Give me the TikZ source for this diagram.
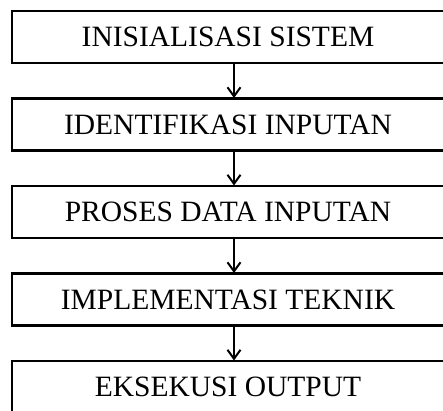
\documentclass[tikz,border=0pt]{standalone}
\usepackage{fontspec}
\setmainfont{Liberation Serif}
\usetikzlibrary{positioning,arrows.meta}
\tikzset{
    stepbox/.style={draw, line width=2.6pt, outer sep=0pt, minimum width=432pt, minimum height=52pt, inner sep=0pt, font=\fontsize{29.5}{32}\selectfont},
    flow/.style={-{Straight Barb[length=9pt,width=13pt,line width=2pt]}, line width=2pt, shorten >=0.5pt}
}
\begin{document}
\begin{tikzpicture}[x=1pt, y=1pt, node distance=35.5pt]
        \useasboundingbox (0,0) rectangle (443,-410);
        \clip (0,0) rectangle (443,-410);
        \node[stepbox] (inisial) at (228,-37) {INISIALISASI SISTEM};
        \node[stepbox, below=of inisial] (identif) {IDENTIFIKASI INPUTAN};
        \node[stepbox, below=of identif] (proses) {PROSES DATA INPUTAN};
        \node[stepbox, below=of proses] (implem) {IMPLEMENTASI TEKNIK};
        \node[stepbox, below=of implem] (eksekusi) {EKSEKUSI OUTPUT};
        \draw[flow] ([xshift=6pt]inisial.south) -- ([xshift=6pt]identif.north);
        \draw[flow] ([xshift=6pt]identif.south) -- ([xshift=6pt]proses.north);
        \draw[flow] ([xshift=6pt]proses.south) -- ([xshift=6pt]implem.north);
        \draw[flow] ([xshift=6pt]implem.south) -- ([xshift=6pt]eksekusi.north);
    \end{tikzpicture}
\end{document}
